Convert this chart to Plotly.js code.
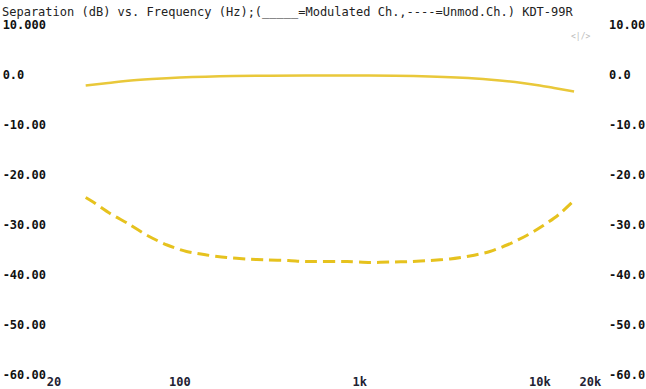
<!DOCTYPE html>
<html>
<head>
<meta charset="utf-8">
<script src="https://cdn.plot.ly/plotly-3.0.1.min.js"></script>
<style>html,body{margin:0;padding:0;background:#fff;}#chart{width:646px;height:389px;}</style>
</head>
<body>
<div id="chart"></div>
<script>
// Modulated channel (solid)
const modFreq = [30, 40, 50, 70, 100, 200, 500, 1000, 2000, 4000, 6000, 8000, 10000, 12000, 15500];
const modDb   = [-2.1, -1.6, -1.2, -0.8, -0.5, -0.2, -0.1, -0.1, -0.2, -0.6, -1.1, -1.6, -2.1, -2.6, -3.3];
// Unmodulated channel (dashed)
const unmodFreq = [30, 33, 41, 52, 66, 85, 109, 141, 182, 235, 304, 400, 500, 850, 1140, 1470, 1940, 2450, 3170, 4090, 5280, 6670, 8450, 10450, 12660, 15600];
const unmodDb   = [-24.5, -25.4, -27.7, -29.8, -32.1, -34.0, -35.3, -36.0, -36.5, -36.8, -37.0, -37.1, -37.3, -37.3, -37.5, -37.4, -37.3, -37.1, -36.8, -36.2, -35.3, -33.9, -32.1, -30.1, -28.0, -25.0];

const xTickVals = [20, 100, 1000, 10000, 20000];
const xTickText = ["20", "100", "1k", "10k", "20k\u00a0"];
const yTickVals = [10, 0, -10, -20, -30, -40, -50, -60];
const yLeftText = ["10.000", "0.0\u00a0\u00a0\u00a0", "-10.00", "-20.00", "-30.00", "-40.00", "-50.00", "-60.00"];
const yRightText = ["10.00", "0.0", "-10.0", "-20.0", "-30.0", "-40.0", "-50.0", "-60.0"];
const titleText = "Separation (dB) vs. Frequency (Hz);(_____=Modulated Ch.,----=Unmod.Ch.) KDT-99R";
const markText = "<|/>";

const mono = "DejaVu Sans Mono, Liberation Mono, monospace";

const traces = [
  {x: modFreq, y: modDb, type: "scatter", mode: "lines", line: {color: "#e9c83a", width: 2.5, shape: "spline", smoothing: 1}, yaxis: "y", hoverinfo: "skip"},
  {x: unmodFreq, y: unmodDb, type: "scatter", mode: "lines", line: {color: "#e6c21e", width: 3, dash: "12px,6px", shape: "spline", smoothing: 0.8}, yaxis: "y2", hoverinfo: "skip"}
];

const layout = {
  width: 646, height: 389,
  margin: {l: 54, r: 52, t: 25, b: 14, pad: 0},
  paper_bgcolor: "#ffffff", plot_bgcolor: "#ffffff",
  showlegend: false,
  title: {text: titleText, x: 2/646, xanchor: "left", xref: "container", y: 1 - 12/389, yanchor: "middle", yref: "container",
          font: {family: mono, size: 12, color: "#222222"}},
  xaxis: {type: "log", range: [Math.log10(20), Math.log10(20000)], tickmode: "array", tickvals: xTickVals, ticktext: xTickText,
          showgrid: false, zeroline: false, showline: false, ticks: "", ticklabelstandoff: -2,
          tickfont: {family: mono, size: 12, color: "#222233", weight: "bold"}},
  yaxis: {range: [-60, 10], tickmode: "array", tickvals: yTickVals, ticktext: yLeftText,
          showgrid: false, zeroline: false, showline: false, ticks: "", ticklabelstandoff: 7,
          tickfont: {family: mono, size: 12, color: "#111111", weight: "bold"}},
  yaxis2: {range: [-60, 10], overlaying: "y", side: "right", tickmode: "array", tickvals: yTickVals, ticktext: yRightText,
          showgrid: false, zeroline: false, showline: false, ticks: "", ticklabelstandoff: 14,
          tickfont: {family: mono, size: 12, color: "#111111", weight: "bold"}},
  annotations: [
    {text: markText, xref: "paper", yref: "paper", x: (580 - 54) / 540, y: (375 - 37) / 350, xanchor: "center", yanchor: "middle",
     showarrow: false, font: {family: mono, size: 8, color: "#bbbbbb"}}
  ]
};

Plotly.newPlot("chart", traces, layout, {displayModeBar: false, staticPlot: true});
</script>
</body>
</html>
